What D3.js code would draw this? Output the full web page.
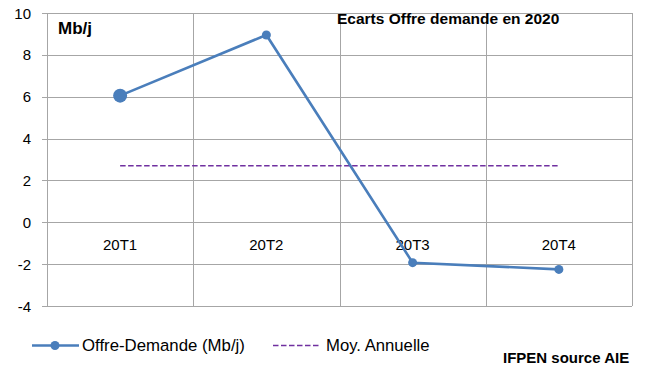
<!DOCTYPE html>
<html><head><meta charset="utf-8">
<script src="https://cdn.jsdelivr.net/npm/d3@7"></script>
<style>body{margin:0;background:#fff}svg{display:block}text{font-family:"Liberation Sans",Arial,sans-serif}</style>
</head><body>
<svg id="c" width="649" height="388"></svg>
<script>
const categories = ["20T1","20T2","20T3","20T4"];
const offreDemande = [6.05, 8.95, -1.93, -2.25];
const moyAnnuelle = [2.7, 2.7, 2.7, 2.7];
const yTicks = [-4,-2,0,2,4,6,8,10];

const svg = d3.select("#c");
const L=47, R=632, T=13, B=306;
const x = d3.scaleBand().domain(categories).range([L,R]);
const y = d3.scaleLinear().domain([-4,10]).range([B,T]);
const cx = d => x(d)+x.bandwidth()/2;
const grid = "#a6a6a6";

// horizontal gridlines
svg.append("g").selectAll("line").data(yTicks).join("line")
  .attr("x1",L-5).attr("x2",R).attr("y1",d=>Math.round(y(d))+0.5).attr("y2",d=>Math.round(y(d))+0.5)
  .attr("stroke",grid).attr("stroke-width",1);
// vertical gridlines at band boundaries
const bounds = categories.map(c=>x(c)).concat([R]);
svg.append("g").selectAll("line").data(bounds).join("line")
  .attr("x1",d=>Math.round(d)+0.5).attr("x2",d=>Math.round(d)+0.5).attr("y1",T).attr("y2",B)
  .attr("stroke",grid).attr("stroke-width",1);

// y tick labels
svg.append("g").selectAll("text").data(yTicks).join("text")
  .attr("x",31).attr("y",d=>y(d)+5.5).attr("text-anchor","end")
  .attr("font-size",15).attr("fill","#000").text(d=>d);

// category labels
svg.append("g").selectAll("text").data(categories).join("text")
  .attr("x",d=>cx(d)).attr("y",y(0)+28).attr("text-anchor","middle")
  .attr("font-size",15).attr("fill","#000").text(d=>d);

// average line
svg.append("path")
  .attr("d",d3.line().x((d,i)=>cx(categories[i])).y(d=>y(d))(moyAnnuelle))
  .attr("fill","none").attr("stroke","#7030a0").attr("stroke-width",1.6)
  .attr("stroke-dasharray","5.5,2.5");

// main line
svg.append("path")
  .attr("d",d3.line().x((d,i)=>cx(categories[i])).y(d=>y(d))(offreDemande))
  .attr("fill","none").attr("stroke","#4a7ebb").attr("stroke-width",2.6);
svg.append("g").selectAll("circle").data(offreDemande).join("circle")
  .attr("cx",(d,i)=>cx(categories[i])).attr("cy",d=>y(d))
  .attr("r",(d,i)=>i===0?7:4.5).attr("fill","#4a7ebb");

// labels
svg.append("text").attr("x",58).attr("y",34).attr("font-size",17).attr("font-weight","bold").text("Mb/j");
svg.append("text").attr("x",337).attr("y",24).attr("font-size",15.5).attr("font-weight","bold").text("Ecarts Offre demande en 2020");

// legend
svg.append("line").attr("x1",32).attr("x2",79).attr("y1",345.5).attr("y2",345.5)
  .attr("stroke","#4a7ebb").attr("stroke-width",2.6);
svg.append("circle").attr("cx",55).attr("cy",345.5).attr("r",4.5).attr("fill","#4a7ebb");
svg.append("text").attr("x",82).attr("y",351).attr("font-size",16.8).text("Offre-Demande (Mb/j)");
svg.append("line").attr("x1",273).attr("x2",321).attr("y1",345.5).attr("y2",345.5)
  .attr("stroke","#7030a0").attr("stroke-width",1.6).attr("stroke-dasharray","5.5,2.5");
svg.append("text").attr("x",326).attr("y",351).attr("font-size",16.7).text("Moy. Annuelle");
svg.append("text").attr("x",503).attr("y",363).attr("font-size",15).attr("font-weight","bold").text("IFPEN source AIE");
</script>
</body></html>
